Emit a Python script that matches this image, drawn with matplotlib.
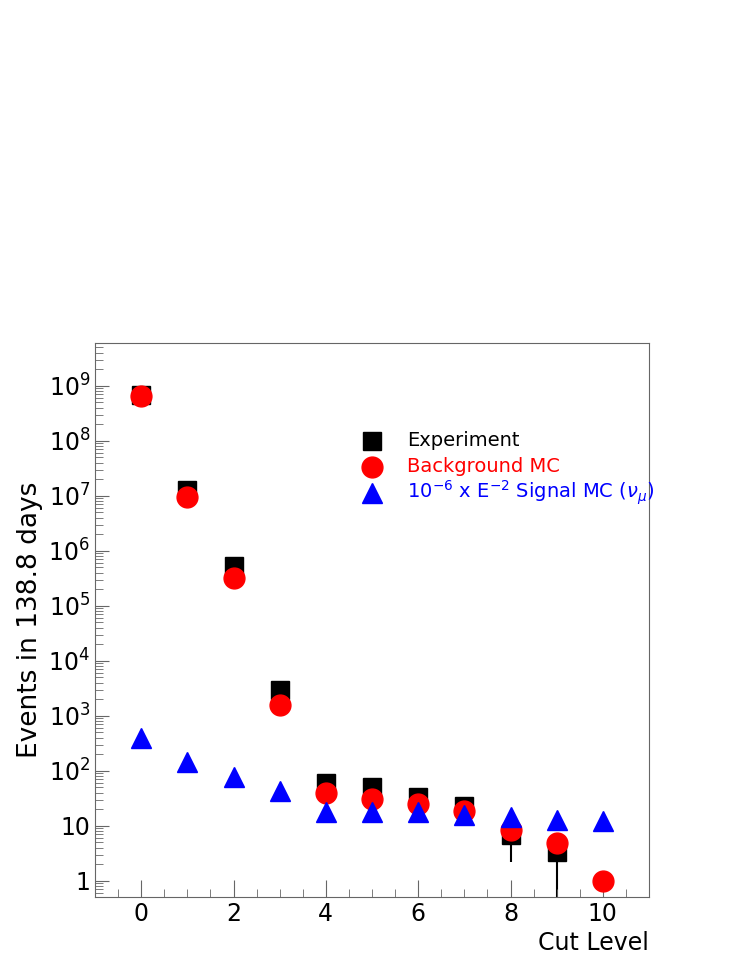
import matplotlib
matplotlib.use("Agg")
import matplotlib.pyplot as plt
from matplotlib.ticker import FixedLocator, LogLocator, NullFormatter, MultipleLocator

cut = [0, 1, 2, 3, 4, 5, 6, 7, 8, 9, 10]
experiment = [6.9e8, 1.3e7, 5.3e5, 2.9e3, 60, 50, 33, 23, 6.9, 3.4]
exp_low = [6.9e8, 1.3e7, 5.3e5, 2.9e3, 60, 50, 33, 23, 2.2, 0.3]
background = [6.5e8, 9.5e6, 3.2e5, 1.6e3, 40, 31, 25, 19, 8.5, 4.9, 1.0]
signal = [400, 145, 78, 43, 18, 18, 18, 16, 14.5, 12.7, 12.5]
ytick_vals = [1, 10, 1e2, 1e3, 1e4, 1e5, 1e6, 1e7, 1e8, 1e9]
ytick_labels = ["1", "10"] + [r"$10^{%d}$" % k for k in range(2, 10)]

fig = plt.figure(figsize=(7.47, 9.67), dpi=100)
ax = fig.add_axes([95/747, 1-897/967, 554/747, 554/967])
ax.set_xlim(-1, 11)
ax.set_yscale("log")
ax.set_ylim(0.51, 6e9)

xe = cut[:len(experiment)]
ax.vlines(xe, exp_low, experiment, color="black", lw=1.5, zorder=1)
ax.plot(xe, experiment, "s", color="black", ms=13, zorder=2)
ax.plot(cut, background, "o", color="red", ms=15, zorder=3)
ax.plot(cut, signal, "^", color="blue", ms=14, zorder=4)

ax.yaxis.set_major_locator(FixedLocator(ytick_vals))
ax.set_yticklabels(ytick_labels, fontsize=19)
ax.yaxis.set_minor_locator(LogLocator(base=10, subs=range(2, 10), numticks=20))
ax.yaxis.set_minor_formatter(NullFormatter())
ax.xaxis.set_major_locator(MultipleLocator(2))
ax.xaxis.set_minor_locator(MultipleLocator(0.5))
ax.tick_params(which="both", direction="in", top=False, right=False)
ax.tick_params(which="major", length=12, labelsize=17, color="0.4")
ax.tick_params(which="minor", length=6, color="0.4")
ax.tick_params(axis="y", which="major", length=10)
for s in ax.spines.values():
    s.set_color("0.4")
ax.set_ylabel("Events in 138.8 days", fontsize=19)
ax.set_xlabel("Cut Level", fontsize=17, loc="right")

# legend
lx, tx = 372, 407
rows = [(441, "s", "black", "Experiment", 13),
        (467, "o", "red", "Background MC", 15),
        (493, "^", "blue", r"$10^{-6}$ x E$^{-2}$ Signal MC ($\nu_\mu$)", 14)]
for y, m, c, t, ms in rows:
    fig.lines.append(plt.Line2D([lx/747], [1-y/967], marker=m, color=c, ms=ms,
                                ls="", transform=fig.transFigure))
    fig.text(tx/747, 1-y/967, t, color=c, fontsize=14, va="center")

fig.savefig("out.png", dpi=100)
